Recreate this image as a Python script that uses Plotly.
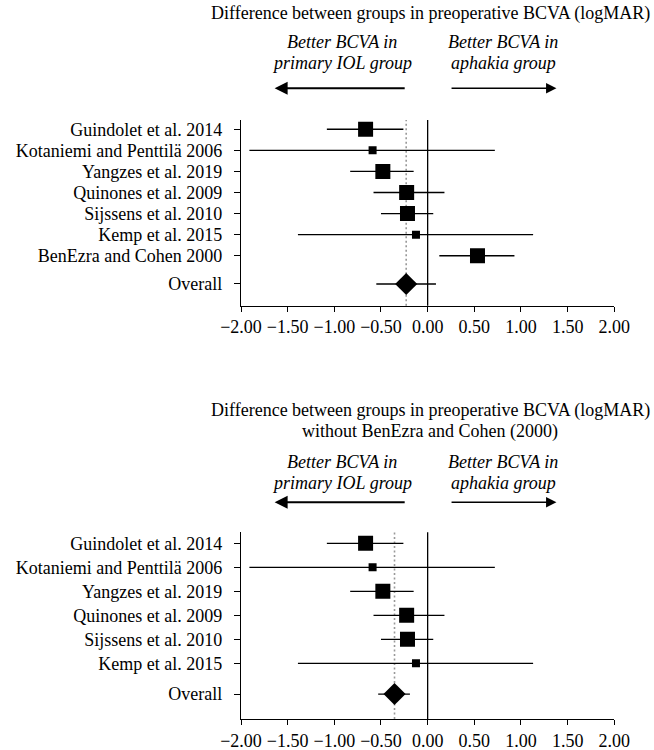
import plotly.graph_objects as go

# ---------------- data ----------------
studies_top = ["Guindolet et al. 2014", "Kotaniemi and Penttilä 2006", "Yangzes et al. 2019",
               "Quinones et al. 2009", "Sijssens et al. 2010", "Kemp et al. 2015",
               "BenEzra and Cohen 2000"]
est_top = [-0.665, -0.59, -0.48, -0.225, -0.216, -0.125, 0.534]
lo_top = [-1.08, -1.91, -0.83, -0.58, -0.50, -1.39, 0.125]
hi_top = [-0.26, 0.72, -0.15, 0.18, 0.06, 1.13, 0.93]
weight_top = ["large", "small", "large", "large", "large", "small", "large"]
overall_top = [-0.23, -0.55, 0.089]   # estimate, lower, upper

studies_bot = studies_top[:6]
est_bot = est_top[:6]
lo_bot = lo_top[:6]
hi_bot = hi_top[:6]
weight_bot = weight_top[:6]
overall_bot = [-0.355, -0.53, -0.19]

xticks = [-2.0, -1.5, -1.0, -0.5, 0.0, 0.5, 1.0, 1.5, 2.0]

title_top = "Difference between groups in preoperative BCVA (logMAR)"
title_bot = ["Difference between groups in preoperative BCVA (logMAR)",
             "without BenEzra and Cohen (2000)"]
left_lab = ["Better BCVA in", "primary IOL group"]
right_lab = ["Better BCVA in", "aphakia group"]

# ---------------- style ----------------
W, H = 654, 750
FONT = "Liberation Serif, Times New Roman, serif"
FS = 18
SIZE = {"large": 15, "small": 8}

def px_x(p):
    return p / W

def px_y(p):
    return 1 - p / H

fig = go.Figure()

panels = [
    dict(studies=studies_top, est=est_top, lo=lo_top, hi=hi_top, wt=weight_top,
         ov=overall_top, xa="x", ya="y", ov_pos=7.34, yr=[8.37, -0.44],
         ydom=[px_y(305.7), px_y(120)],
         titles=[(title_top, 13.3)], lab_y=[42, 62.5], arrow_y=88.3),
    dict(studies=studies_bot, est=est_bot, lo=lo_bot, hi=hi_bot, wt=weight_bot,
         ov=overall_bot, xa="x2", ya="y2", ov_pos=6.28, yr=[7.32, -0.46],
         ydom=[px_y(719), px_y(532.3)],
         titles=[(title_bot[0], 410.5), (title_bot[1], 432)], lab_y=[462, 483], arrow_y=502.3),
]

annotations = []
shapes = []
for i, p in enumerate(panels):
    n = len(p["studies"])
    ypos = list(range(n))
    fig.add_trace(go.Scatter(
        x=p["est"], y=ypos, mode="markers",
        marker=dict(symbol="square", size=[SIZE[w] for w in p["wt"]], color="black",
                    opacity=1, line=dict(width=0)),
        error_x=dict(type="data", symmetric=False,
                     array=[h - e for h, e in zip(p["hi"], p["est"])],
                     arrayminus=[e - l for e, l in zip(p["est"], p["lo"])],
                     color="black", thickness=1.3, width=0),
        xaxis=p["xa"], yaxis=p["ya"], showlegend=False, hoverinfo="skip"))
    e, l, h = p["ov"]
    fig.add_trace(go.Scatter(
        x=[e], y=[p["ov_pos"]], mode="markers",
        marker=dict(symbol="diamond", size=17, color="black", opacity=1, line=dict(width=0)),
        error_x=dict(type="data", symmetric=False, array=[h - e], arrayminus=[e - l],
                     color="black", thickness=1.3, width=0),
        xaxis=p["xa"], yaxis=p["ya"], showlegend=False, hoverinfo="skip"))

    sfx = "" if i == 0 else "2"
    # zero line
    shapes.append(dict(type="line", xref=p["xa"], yref=p["ya"] + " domain",
                       x0=0, x1=0, y0=0, y1=1, line=dict(color="black", width=1.3),
                       layer="below"))
    # dotted overall line
    shapes.append(dict(type="line", xref=p["xa"], yref=p["ya"] + " domain",
                       x0=e, x1=e, y0=0, y1=1,
                       line=dict(color="#999999", width=1.6, dash="2px,2.5px"),
                       layer="below"))

    fig.layout["xaxis" + sfx] = dict(
        domain=[px_x(241), px_x(614.3)], range=[-2, 2], anchor=p["ya"],
        tickvals=xticks, tickformat=".2f", showgrid=False, zeroline=False,
        showline=True, linecolor="black", linewidth=1.3, automargin=False,
        ticks="outside", ticklen=5, tickwidth=1.3, tickcolor="black",
        tickfont=dict(family=FONT, size=FS, color="black"), fixedrange=True)
    fig.layout["yaxis" + sfx] = dict(
        domain=p["ydom"], range=p["yr"], anchor=p["xa"],
        tickvals=ypos + [p["ov_pos"]], ticktext=p["studies"] + ["Overall"],
        showgrid=False, zeroline=False, showline=True, linecolor="black", linewidth=1.3,
        ticks="outside", ticklen=6, tickwidth=1.3, tickcolor="black",
        ticklabelstandoff=8, automargin=False,
        tickfont=dict(family=FONT, size=FS, color="black"), fixedrange=True)

    for txt, yy in p["titles"]:
        annotations.append(dict(text=txt, xref="paper", yref="paper", x=px_x(430),
                                y=px_y(yy), xanchor="center", yanchor="middle",
                                showarrow=False, font=dict(family=FONT, size=FS, color="black")))
    for txt, yy in zip(left_lab, p["lab_y"]):
        annotations.append(dict(text="<i>" + txt + "</i>", xref="paper", yref="paper",
                                x=px_x(342.5), y=px_y(yy), xanchor="center", yanchor="middle",
                                showarrow=False, font=dict(family=FONT, size=FS, color="black")))
    for txt, yy in zip(right_lab, p["lab_y"]):
        annotations.append(dict(text="<i>" + txt + "</i>", xref="paper", yref="paper",
                                x=px_x(503), y=px_y(yy), xanchor="center", yanchor="middle",
                                showarrow=False, font=dict(family=FONT, size=FS, color="black")))
    # arrows
    annotations.append(dict(text="", xref=p["xa"], yref="paper", x=-1.64, y=px_y(p["arrow_y"]),
                            axref=p["xa"], ayref="pixel", ax=-0.23, ay=0,
                            showarrow=True, arrowhead=2, arrowsize=1.3, arrowwidth=2,
                            arrowcolor="black"))
    annotations.append(dict(text="", xref=p["xa"], yref="paper", x=1.38, y=px_y(p["arrow_y"]),
                            axref=p["xa"], ayref="pixel", ax=0.24, ay=0,
                            showarrow=True, arrowhead=2, arrowsize=1.3, arrowwidth=1.6,
                            arrowcolor="black"))

fig.update_layout(width=W, height=H, margin=dict(l=0, r=0, t=0, b=0, pad=0),
                  paper_bgcolor="white", plot_bgcolor="white",
                  annotations=annotations, shapes=shapes,
                  font=dict(family=FONT, size=FS, color="black"))

fig.write_html("out.html", config={"displayModeBar": False},
               post_script="document.body.style.margin='0';document.body.style.overflow='hidden';")
